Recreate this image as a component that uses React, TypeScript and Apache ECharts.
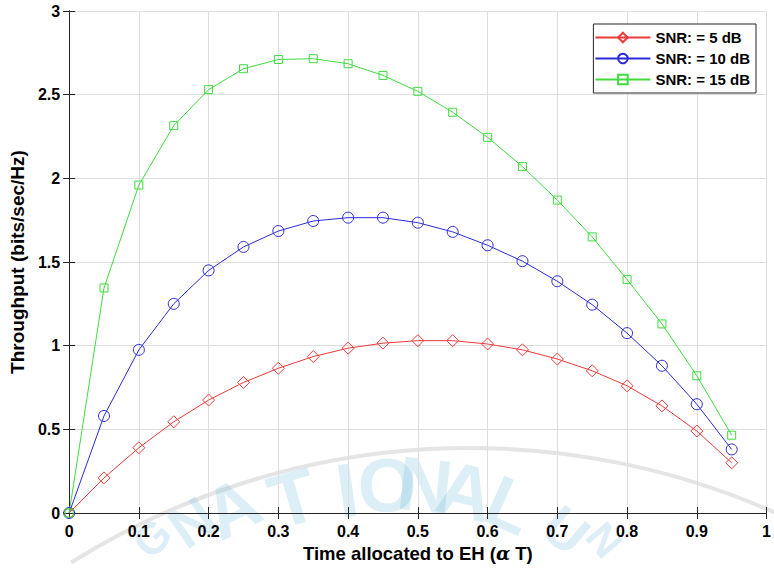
import React, { useEffect, useRef } from "react";
import * as echarts from "echarts";

const alphaValues = [0, 0.05, 0.1, 0.15, 0.2, 0.25, 0.3, 0.35, 0.4, 0.45, 0.5, 0.55, 0.6, 0.65, 0.7, 0.75, 0.8, 0.85, 0.9, 0.95];
const snr5 = [0, 0.21, 0.39, 0.545, 0.675, 0.78, 0.865, 0.935, 0.985, 1.015, 1.03, 1.03, 1.01, 0.975, 0.92, 0.85, 0.76, 0.64, 0.49, 0.3];
const snr10 = [0, 0.58, 0.975, 1.25, 1.45, 1.59, 1.685, 1.745, 1.765, 1.765, 1.735, 1.68, 1.6, 1.505, 1.385, 1.245, 1.075, 0.88, 0.65, 0.38];
const snr15 = [0, 1.345, 1.96, 2.315, 2.53, 2.655, 2.71, 2.715, 2.685, 2.615, 2.52, 2.395, 2.245, 2.07, 1.87, 1.65, 1.395, 1.13, 0.82, 0.465];
const seriesNames = ["SNR: = 5 dB", "SNR: = 10 dB", "SNR: = 15 dB"];
const watermarkLetters = ["G", "N", "A", "T", "I", "O", "N", "A", "L", "U", "N"];

const FONT = "'Liberation Sans', Arial, Helvetica, sans-serif";

export default function App() {
  const ref = useRef<HTMLDivElement>(null);
  useEffect(() => {
    if (!ref.current) return;
    const chart = echarts.init(ref.current, null, { renderer: "svg" });
    const pair = (ys: number[]) => alphaValues.map((x, i) => [x, ys[i]]);
    const colors = ["#ec3b3b", "#2b2bd8", "#3fdc3f"];
    const symbols = ["diamond", "circle", "rect"];
    const sizes = [12, 11, 8];
    const datasets = [snr5, snr10, snr15];

    // decorative watermark placement
    const wmPos = [
      [152, 538, 45, 44], [192, 522, 35, 58], [232, 508, 27, 72], [293, 498, 16, 76], [347, 490, 8, 76],
      [387, 485, 2, 76], [425, 485, -6, 76], [466, 491, -14, 76], [510, 505, -24, 72], [566, 530, -40, 56], [604, 540, -50, 42],
    ];
    const wmText = watermarkLetters.map((ch, i) => ({
      type: "text",
      x: wmPos[i][0],
      y: wmPos[i][1],
      rotation: (wmPos[i][2] * Math.PI) / 180,
      z: 0,
      silent: true,
      style: {
        text: ch,
        font: `bold ${wmPos[i][3]}px ${FONT}`,
        fill: "rgba(120,190,220,0.26)",
        align: "center",
        verticalAlign: "middle",
      },
    }));

    const axisLine = { show: true, lineStyle: { color: "#262626", width: 1 } };
    const tick = { show: true, inside: true, length: 6, lineStyle: { color: "#262626" } };
    const labelStyle = { color: "#000", fontFamily: FONT, fontWeight: "bold", fontSize: 16 };

    chart.setOption({
      animation: false,
      backgroundColor: "#fff",
      graphic: [
        {
          type: "arc",
          z: 0,
          silent: true,
          shape: { cx: 470, cy: 1200, r: 752, startAngle: -2.13, endAngle: -1.12 },
          style: { stroke: "rgba(170,170,170,0.3)", lineWidth: 4, fill: "none" },
        },
        ...wmText,
      ],
      grid: { left: 67, right: 6, top: 11, bottom: 60, containLabel: false },
      legend: {
        orient: "vertical",
        right: 18,
        top: 24,
        backgroundColor: "#fff",
        borderColor: "#262626",
        borderWidth: 1,
        borderRadius: 0,
        padding: [6, 6, 6, 1],
        itemGap: 6,
        itemWidth: 55,
        itemHeight: 12,
        data: seriesNames,
        textStyle: { color: "#000", fontFamily: FONT, fontWeight: "bold", fontSize: 15 },
      },
      xAxis: [
        {
          type: "value",
          min: 0,
          max: 1,
          interval: 0.1,
          position: "bottom",
          name: "Time allocated to EH ({a|α} T)",
          nameLocation: "middle",
          nameGap: 30,
          nameTextStyle: {
            color: "#000",
            fontFamily: FONT,
            fontWeight: "bold",
            fontSize: 18.5,
            rich: { a: { fontFamily: "'DejaVu Serif', serif", fontStyle: "italic", fontSize: 18.5, color: "#000" } },
          },
          axisLine,
          axisTick: tick,
          axisLabel: { ...labelStyle, margin: 10 },
          splitLine: { show: true, lineStyle: { color: "#dedede", width: 1 } },
        },
        {
          type: "value",
          min: 0,
          max: 1,
          interval: 0.1,
          position: "top",
          axisLine,
          axisTick: tick,
          axisLabel: { show: false },
          splitLine: { show: false },
        },
      ],
      yAxis: [
        {
          type: "value",
          min: 0,
          max: 3,
          interval: 0.5,
          position: "left",
          name: "Throughput (bits/sec/Hz)",
          nameLocation: "middle",
          nameGap: 36,
          nameTextStyle: { color: "#000", fontFamily: FONT, fontWeight: "bold", fontSize: 19 },
          axisLine,
          axisTick: tick,
          axisLabel: { ...labelStyle, margin: 9 },
          splitLine: { show: true, lineStyle: { color: "#dedede", width: 1 } },
        },
        {
          type: "value",
          min: 0,
          max: 3,
          interval: 0.5,
          position: "right",
          axisLine,
          axisTick: tick,
          axisLabel: { show: false },
          splitLine: { show: false },
        },
      ],
      series: datasets.map((ys, i) => ({
        name: seriesNames[i],
        type: "line",
        xAxisIndex: 0,
        yAxisIndex: 0,
        z: 3,
        data: pair(ys),
        symbol: symbols[i],
        symbolSize: sizes[i],
        showAllSymbol: true,
        lineStyle: { color: colors[i], width: 1 },
        itemStyle: { color: "rgba(255,255,255,0)", borderColor: colors[i], borderWidth: 1 },
        emphasis: { disabled: true },
      })),
    });
    return () => chart.dispose();
  }, []);
  return <div ref={ref} style={{ width: 774, height: 573, position: "absolute", left: 0, top: 0 }} />;
}
